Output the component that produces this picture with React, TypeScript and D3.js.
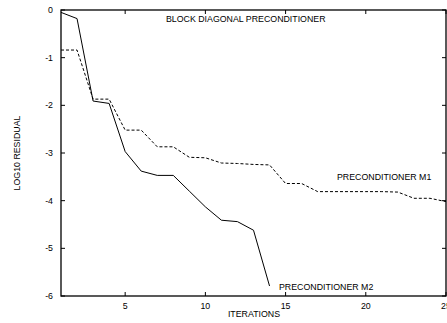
import React, { useEffect, useRef } from 'react';
import * as d3 from 'd3';

const iterations = [1, 2, 3, 4, 5, 6, 7, 8, 9, 10, 11, 12, 13, 14, 15, 16, 17, 18, 19, 20, 21, 22, 23, 24, 25];
const m1Values = [-0.84, -0.84, -1.87, -1.87, -2.52, -2.52, -2.87, -2.87, -3.09, -3.1, -3.21, -3.22, -3.24, -3.25, -3.64, -3.64, -3.81, -3.81, -3.81, -3.81, -3.81, -3.82, -3.95, -3.95, -4.02];
const m2Values = [-0.05, -0.18, -1.91, -1.96, -2.97, -3.38, -3.47, -3.47, -3.8, -4.13, -4.41, -4.44, -4.62, -5.79];
const xTicks = [5, 10, 15, 20, 25];
const yTicks = [0, -1, -2, -3, -4, -5, -6];

const W = 447;
const H = 323;

const App = () => {
  const svgRef = useRef<SVGSVGElement>(null);

  useEffect(() => {
    const svg = d3.select(svgRef.current);
    svg.selectAll('*').remove();

    const left = 61, right = 446, top = 10, bottom = 296;
    const x = d3.scaleLinear().domain([1, 25]).range([left, right]);
    const y = d3.scaleLinear().domain([-6, 0]).range([bottom, top]);
    const font = 'Liberation Sans, Arial, sans-serif';

    const g = svg.append('g');

    // frame
    g.append('rect')
      .attr('x', left).attr('y', top)
      .attr('width', right - left).attr('height', bottom - top)
      .attr('fill', 'none').attr('stroke', '#000').attr('stroke-width', 1.3);

    // ticks (inward, all four sides)
    const tl = 4;
    xTicks.forEach((t) => {
      g.append('line').attr('x1', x(t)).attr('x2', x(t)).attr('y1', bottom).attr('y2', bottom - tl)
        .attr('stroke', '#000').attr('stroke-width', 1);
      g.append('line').attr('x1', x(t)).attr('x2', x(t)).attr('y1', top).attr('y2', top + tl)
        .attr('stroke', '#000').attr('stroke-width', 1);
      g.append('text').attr('x', x(t)).attr('y', bottom + 13)
        .attr('text-anchor', 'middle').attr('font-family', font).attr('font-size', 8.8)
        .text(t);
    });
    yTicks.forEach((t) => {
      g.append('line').attr('x1', left).attr('x2', left + tl).attr('y1', y(t)).attr('y2', y(t))
        .attr('stroke', '#000').attr('stroke-width', 1);
      g.append('line').attr('x1', right).attr('x2', right - tl).attr('y1', y(t)).attr('y2', y(t))
        .attr('stroke', '#000').attr('stroke-width', 1);
      g.append('text').attr('x', 53).attr('y', y(t) + 3)
        .attr('text-anchor', 'end').attr('font-family', font).attr('font-size', 8.8)
        .text(t);
    });

    const line = d3.line<number>()
      .x((_, i) => x(iterations[i]))
      .y((d) => y(d));

    g.append('path').datum(m1Values).attr('d', line)
      .attr('fill', 'none').attr('stroke', '#000').attr('stroke-width', 1)
      .attr('stroke-dasharray', '3,2');

    g.append('path').datum(m2Values).attr('d', line)
      .attr('fill', 'none').attr('stroke', '#000').attr('stroke-width', 1);

    // labels
    g.append('text').attr('x', 166).attr('y', 22)
      .attr('font-family', font).attr('font-size', 8.8).text('BLOCK DIAGONAL PRECONDITIONER');
    g.append('text').attr('x', 337).attr('y', 180)
      .attr('font-family', font).attr('font-size', 8.8).text('PRECONDITIONER M1');
    g.append('text').attr('x', 279).attr('y', 290)
      .attr('font-family', font).attr('font-size', 8.8).text('PRECONDITIONER M2');
    g.append('text').attr('x', 254).attr('y', 317)
      .attr('text-anchor', 'middle').attr('font-family', font).attr('font-size', 8.8).text('ITERATIONS');
    g.append('text')
      .attr('transform', `translate(20,153) rotate(-90)`)
      .attr('text-anchor', 'middle').attr('font-family', font).attr('font-size', 8.8).text('LOG10 RESIDUAL');
  }, []);

  return (
    <svg ref={svgRef} width={W} height={H}
      style={{ position: 'absolute', left: 0, top: 0, background: '#fff' }} />
  );
};

export default App;
